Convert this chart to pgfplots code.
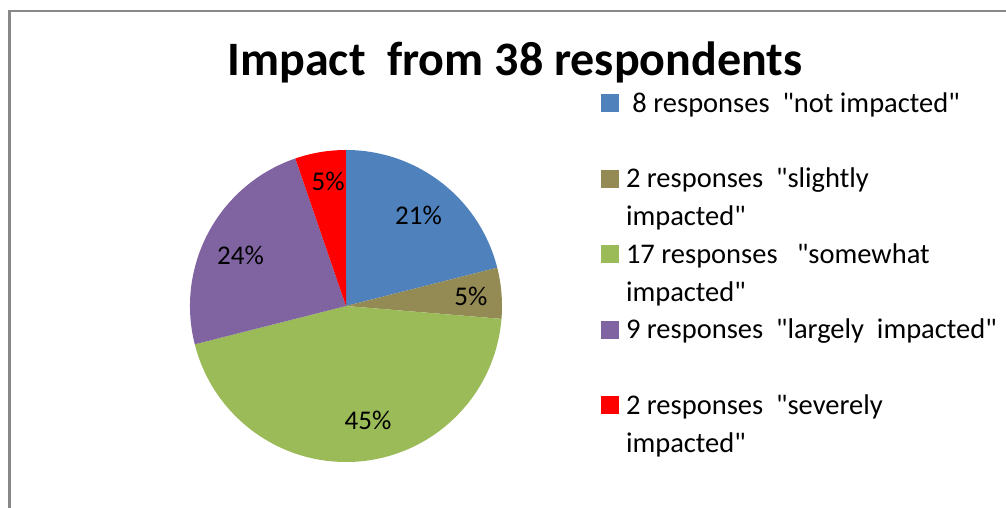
\documentclass[border=0pt]{standalone}
\usepackage{fontspec}
\setmainfont{Carlito}
% a family without TeX ligatures, so that " stays a straight quote
\newfontfamily\carlito{Carlito}
\usepackage{pgfplots}
\pgfplotsset{compat=1.18}

\definecolor{sblue}{HTML}{4F81BD}
\definecolor{solive}{HTML}{948A54}
\definecolor{sgreen}{HTML}{9BBB59}
\definecolor{spurple}{HTML}{8064A2}
\definecolor{sred}{HTML}{FF0000}
\definecolor{framegray}{HTML}{888888}

% responses per category (38 in all), first slice starts at 12 o'clock, clockwise
\def\total{38}
\def\va{8}  \def\vb{2}  \def\vc{17}  \def\vd{9}  \def\ve{2}

\begin{document}
\carlito
\begin{tikzpicture}
\useasboundingbox (0pt,0pt) rectangle (1006pt,508pt);
\draw[framegray, line width=2.5pt] (9.5pt,-2pt) -- (9.5pt,497pt) -- (1008pt,497pt);
\node[font=\bfseries\fontsize{48}{57}\selectfont, anchor=base] at (515pt,432pt)
  {Impact\ \ from 38 respondents};

\pgfmathsetmacro\aa{90}
\pgfmathsetmacro\ab{\aa-\va/\total*360}
\pgfmathsetmacro\ac{\ab-\vb/\total*360}
\pgfmathsetmacro\ad{\ac-\vc/\total*360}
\pgfmathsetmacro\ae{\ad-\vd/\total*360}

\begin{axis}[
  at={(190pt,46pt)}, anchor=south west,
  scale only axis, width=312pt, height=312pt,
  xmin=-1, xmax=1, ymin=-1, ymax=1,
  hide axis, clip=false,
  legend image code/.code={\fill[#1] (0pt,0pt) rectangle (18pt,18pt);},
  legend style={
    at={(1.3173,1.2051)}, anchor=north west,
    draw=none, fill=none, inner sep=0pt, outer sep=0pt,
    row sep=0pt, column sep=7pt,
    font=\fontsize{28.5}{37.8}\selectfont,
    nodes={inner sep=0pt, text height=26pt, text depth=11.8pt},
    cells={anchor=base west},
  },
]
\addplot[fill=sblue, draw=none, data cs=polar] coordinates {(0,0) (\aa,1)}
  arc[start angle=\aa, delta angle={-\va/\total*360}, radius=1] -- cycle;
\addlegendentry{\ 8 responses\ \ "not impacted"}
\addlegendimage{empty legend}\addlegendentry{}
\addplot[fill=solive, draw=none, data cs=polar] coordinates {(0,0) (\ab,1)}
  arc[start angle=\ab, delta angle={-\vb/\total*360}, radius=1] -- cycle;
\addlegendentry{2 responses\ \ "slightly}
\addlegendimage{empty legend}\addlegendentry{impacted"}
\addplot[fill=sgreen, draw=none, data cs=polar] coordinates {(0,0) (\ac,1)}
  arc[start angle=\ac, delta angle={-\vc/\total*360}, radius=1] -- cycle;
\addlegendentry{17 responses\ \ \ "somewhat}
\addlegendimage{empty legend}\addlegendentry{impacted"}
\addplot[fill=spurple, draw=none, data cs=polar] coordinates {(0,0) (\ad,1)}
  arc[start angle=\ad, delta angle={-\vd/\total*360}, radius=1] -- cycle;
\addlegendentry{9 responses\ \ "largely\ \ impacted"}
\addlegendimage{empty legend}\addlegendentry{}
\addplot[fill=sred, draw=none, data cs=polar] coordinates {(0,0) (\ae,1)}
  arc[start angle=\ae, delta angle={-\ve/\total*360}, radius=1] -- cycle;
\addlegendentry{2 responses\ \ "severely}
\addlegendimage{empty legend}\addlegendentry{impacted"}

\begin{scope}[font=\fontsize{27}{32}\selectfont]
\node at (axis cs:0.465,0.583) {21\%};
\node at (axis cs:0.801,0.064) {5\%};
\node at (axis cs:0.141,-0.734) {45\%};
\node at (axis cs:-0.676,0.327) {24\%};
\node at (axis cs:-0.115,0.801) {5\%};
\end{scope}
\end{axis}
\end{tikzpicture}
\end{document}
